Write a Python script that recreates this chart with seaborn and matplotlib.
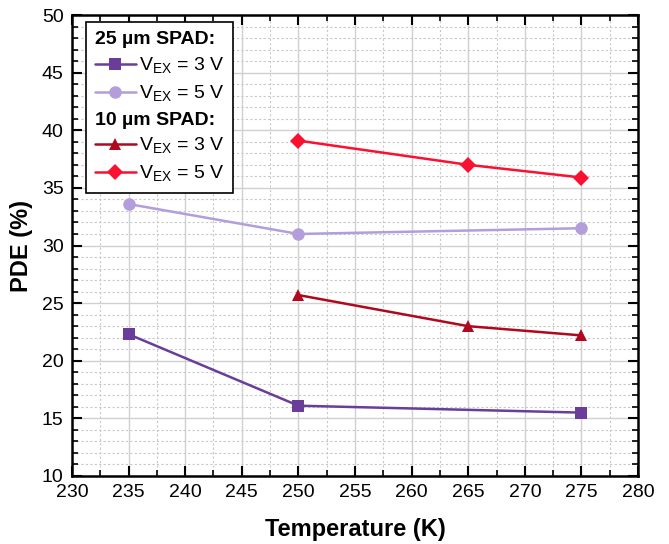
import matplotlib
matplotlib.use("Agg")
import matplotlib.pyplot as plt
from matplotlib.lines import Line2D
from matplotlib.ticker import MultipleLocator
import seaborn as sns
import pandas as pd

# ---- data ----
temp_25 = [235, 250, 275]
pde_25_3v = [22.3, 16.1, 15.5]
pde_25_5v = [33.6, 31.0, 31.5]
temp_10 = [250, 265, 275]
pde_10_3v = [25.7, 23.0, 22.2]
pde_10_5v = [39.1, 37.0, 35.9]

series_names = ["25 µm, 3 V", "25 µm, 5 V", "10 µm, 3 V", "10 µm, 5 V"]
series_temps = [temp_25, temp_25, temp_10, temp_10]
series_vals = [pde_25_3v, pde_25_5v, pde_10_3v, pde_10_5v]
colors = ["#6A3D9A", "#B39DDB", "#B0081E", "#FA1030"]
markers = ["s", "o", "^", "D"]
msizes = [8, 9, 9, 8]

rows = []
for n, t, v in zip(series_names, series_temps, series_vals):
    for ti, vi in zip(t, v):
        rows.append({"series": n, "T": ti, "PDE": vi})
df = pd.DataFrame(rows)

sns.set_theme(style="white", rc={"text.color": "black", "axes.labelcolor": "black",
                                 "xtick.color": "black", "ytick.color": "black"})
plt.rcParams["font.family"] = ["Liberation Sans", "DejaVu Sans"]
plt.rcParams["mathtext.fontset"] = "custom"
plt.rcParams["mathtext.rm"] = "Liberation Sans"

fig = plt.figure(figsize=(6.69, 5.44), dpi=100)
ax = fig.add_axes([0.1076, 0.125, 0.8461, 0.8474])

for n, c, m, ms in zip(series_names, colors, markers, msizes):
    sub = df[df["series"] == n]
    sns.lineplot(data=sub, x="T", y="PDE", ax=ax, color=c, marker=m,
                 markersize=ms, markeredgewidth=0, linewidth=1.8,
                 legend=False, zorder=3)

ax.set_xlim(230, 280)
ax.set_ylim(10, 50)
ax.xaxis.set_major_locator(MultipleLocator(5))
ax.xaxis.set_minor_locator(MultipleLocator(2.5))
ax.yaxis.set_major_locator(MultipleLocator(5))
ax.yaxis.set_minor_locator(MultipleLocator(1))

ax.grid(which="major", color="#d0d0d0", linewidth=1.0, linestyle="-", zorder=0)
ax.grid(which="minor", color="#c8c8c8", linewidth=0.8, linestyle=(0, (2, 2)), zorder=0)
ax.set_axisbelow(True)

ax.tick_params(which="both", direction="in", top=True, right=True,
               bottom=True, left=True, color="black", labelcolor="black")
ax.tick_params(which="major", length=7, width=1.5, labelsize=14, pad=6)
ax.tick_params(which="minor", length=4, width=1.2)
for s in ax.spines.values():
    s.set_linewidth(1.8)
    s.set_color("black")

ax.set_xlabel("Temperature (K)", fontsize=17, fontweight="bold", labelpad=12, color="black")
ax.set_ylabel("PDE (%)", fontsize=17, fontweight="bold", labelpad=6, color="black")

blank = Line2D([], [], linestyle="none", marker=None)
handles = [blank]
labels = ["25 µm SPAD:"]
for i in range(2):
    handles.append(Line2D([], [], color=colors[i], marker=markers[i],
                          markersize=msizes[i], markeredgewidth=0, linewidth=1.8))
labels += [r"V$_{\mathrm{EX}}$ = 3 V", r"V$_{\mathrm{EX}}$ = 5 V"]
handles.append(blank)
labels.append("10 µm SPAD:")
for i in range(2, 4):
    handles.append(Line2D([], [], color=colors[i], marker=markers[i],
                          markersize=msizes[i], markeredgewidth=0, linewidth=1.8))
labels += [r"V$_{\mathrm{EX}}$ = 3 V", r"V$_{\mathrm{EX}}$ = 5 V"]

fs = 14
leg = ax.legend(handles, labels, loc="upper left", bbox_to_anchor=(0.025, 0.985),
                fontsize=fs, frameon=True, fancybox=False, edgecolor="black",
                framealpha=1, handlelength=2.1, handletextpad=0.15,
                labelspacing=0.38, borderpad=0.45, borderaxespad=0)
leg.get_frame().set_linewidth(1.2)

# header rows: remove handle space so the bold text starts at the left edge
header_labels = {"25 µm SPAD:", "10 µm SPAD:"}
for col in leg._legend_handle_box.get_children():
    for item in col.get_children():
        kids = item.get_children()
        txt = kids[1]._text
        if txt.get_text() in header_labels:
            txt.set_fontweight("bold")
            kids[0].width = 0
            item.sep = 0

fig.savefig("out.png", dpi=100)
